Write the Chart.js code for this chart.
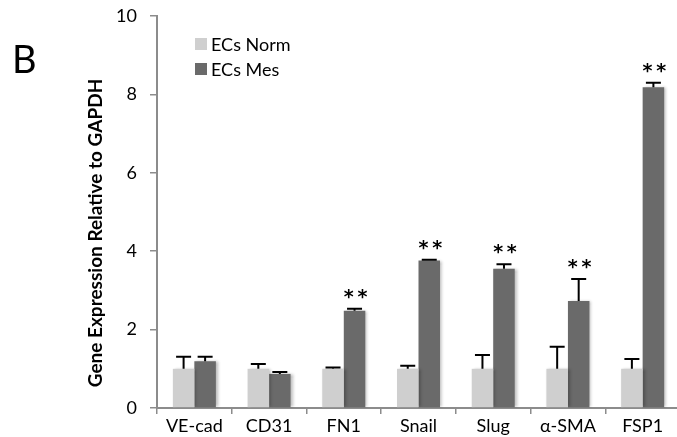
<!DOCTYPE html>
<html>
<head>
<meta charset="utf-8">
<script src="https://cdn.jsdelivr.net/npm/chart.js@4/dist/chart.umd.min.js"></script>
<style>
    html, body { margin: 0; padding: 0; background: #fff; overflow: hidden; }
    #wrap { position: relative; width: 682px; height: 437px; }
</style>
</head>
<body>
<div id="wrap"><canvas id="geneChart" width="682" height="437"></canvas></div>
<script>
// Data
const categories = ['VE-cad', 'CD31', 'FN1', 'Snail', 'Slug', 'α-SMA', 'FSP1'];
const normValues = [1.0, 1.0, 1.0, 1.0, 1.0, 1.0, 1.0];
const normErrors = [0.31, 0.12, 0.03, 0.08, 0.35, 0.56, 0.25];
const mesValues = [1.19, 0.87, 2.48, 3.76, 3.55, 2.73, 8.18];
const mesErrors = [0.12, 0.05, 0.05, 0.02, 0.12, 0.56, 0.12];
const significance = ['', '', '**', '**', '**', '**', '**'];
const seriesLabels = ['ECs Norm', 'ECs Mes'];
const yTicks = [0, 2, 4, 6, 8, 10];

const FONT = 'Lato, "Open Sans", sans-serif';
const AXIS_GREY = '#8c8c8c';

/**
 * Extra drawing: error bars, significance stars, legend, panel letter, y title
 */
const annotations = {
    id: 'annotations',
    beforeDatasetsDraw(chart) {
        const ctx = chart.ctx;
        ctx.save();
        ctx.shadowColor = 'rgba(0, 0, 0, 0.28)';
        ctx.shadowBlur = 3;
        ctx.shadowOffsetX = 2;
    },
    afterDatasetsDraw(chart) {
        chart.ctx.restore();
        const ctx = chart.ctx;
        const y = chart.scales.y;
        const errs = [normErrors, mesErrors];

        // error bars (upper half only)
        ctx.save();
        ctx.strokeStyle = '#000';
        ctx.lineWidth = 2;
        errs.forEach((errList, di) => {
            const meta = chart.getDatasetMeta(di);
            meta.data.forEach((bar, i) => {
                const v = chart.data.datasets[di].data[i];
                const top = y.getPixelForValue(v + errList[i]);
                const base = y.getPixelForValue(v);
                ctx.beginPath();
                ctx.moveTo(bar.x, base);
                ctx.lineTo(bar.x, top);
                ctx.moveTo(bar.x - 7.5, top);
                ctx.lineTo(bar.x + 7.5, top);
                ctx.stroke();
            });
        });

        // significance stars over the Mes bars
        ctx.fillStyle = '#000';
        ctx.font = 'bold 19px "DejaVu Sans", sans-serif';
        ctx.textAlign = 'center';
        ctx.textBaseline = 'middle';
        const mesMeta = chart.getDatasetMeta(1);
        significance.forEach((s, i) => {
            if (!s) return;
            const bar = mesMeta.data[i];
            const top = y.getPixelForValue(mesValues[i] + mesErrors[i]);
            ctx.fillText(s.split('').join('\u2009'), bar.x + 1, top - 11);
        });

        // legend
        ctx.textAlign = 'left';
        ctx.font = '18px ' + FONT;
        chart.data.datasets.forEach((ds, i) => {
            const ly = 44 + i * 25;
            ctx.fillStyle = ds.backgroundColor;
            ctx.fillRect(195, ly - 6, 12, 12);
            ctx.fillStyle = '#000';
            ctx.fillText(ds.label, 211, ly + 1);
        });

        // panel letter
        ctx.font = '38px ' + FONT;
        ctx.textAlign = 'left';
        ctx.textBaseline = 'alphabetic';
        ctx.fillText('B', 12, 73);

        // y axis title
        ctx.translate(96, 233);
        ctx.rotate(-Math.PI / 2);
        ctx.font = 'bold 19px ' + FONT;
        ctx.textAlign = 'center';
        ctx.textBaseline = 'middle';
        ctx.fillText('Gene Expression Relative to GAPDH', 0, 0);
        ctx.restore();
    }
};

const ctx = document.getElementById('geneChart').getContext('2d');
new Chart(ctx, {
    type: 'bar',
    data: {
        labels: categories,
        datasets: [
            {
                label: seriesLabels[0],
                data: normValues,
                backgroundColor: '#cfcfcf',
                borderWidth: 0,
                categoryPercentage: 0.576,
                barPercentage: 1.0
            },
            {
                label: seriesLabels[1],
                data: mesValues,
                backgroundColor: '#6a6a6a',
                borderWidth: 0,
                categoryPercentage: 0.576,
                barPercentage: 1.0
            }
        ]
    },
    options: {
        responsive: false,
        animation: false,
        layout: { padding: { top: 16, right: 2, left: 0, bottom: 0 } },
        plugins: {
            legend: { display: false },
            tooltip: { enabled: false }
        },
        scales: {
            x: {
                grid: {
                    display: true,
                    drawOnChartArea: false,
                    tickLength: 6,
                    color: AXIS_GREY,
                    lineWidth: 1.5
                },
                border: { color: AXIS_GREY, width: 2 },
                ticks: {
                    color: '#000',
                    font: { family: FONT, size: 18 },
                    padding: 1,
                    maxRotation: 0
                },
                afterFit(scale) { scale.height = 29; }
            },
            y: {
                min: 0,
                max: 10,
                afterBuildTicks(scale) {
                    scale.ticks = yTicks.map(v => ({ value: v }));
                },
                grid: {
                    display: true,
                    drawOnChartArea: false,
                    tickLength: 7,
                    color: AXIS_GREY,
                    lineWidth: 1.5
                },
                border: { color: AXIS_GREY, width: 2 },
                ticks: {
                    color: '#000',
                    font: { family: FONT, size: 18 },
                    padding: 13
                },
                afterFit(scale) {
                    scale.width = 157;
                    scale.paddingTop = 0;
                    scale.paddingBottom = 0;
                }
            }
        }
    },
    plugins: [annotations]
});
</script>
</body>
</html>
